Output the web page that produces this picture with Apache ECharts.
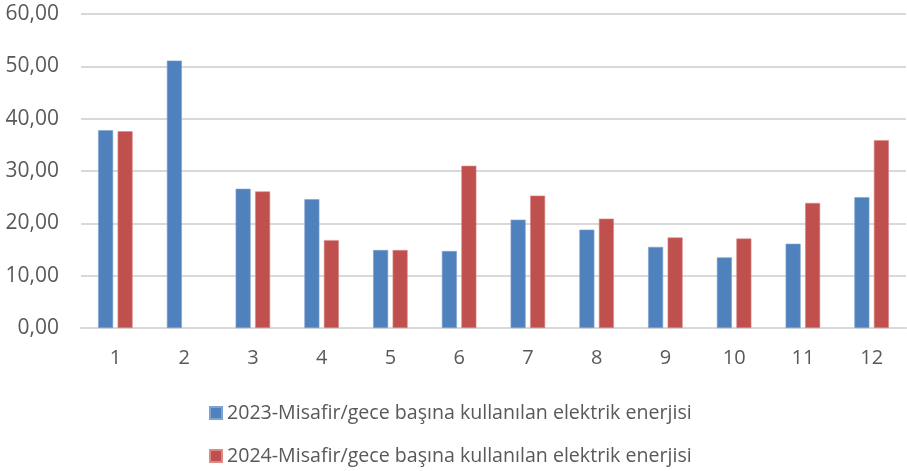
<!DOCTYPE html>
<html>
<head>
<meta charset="utf-8">
<script src="https://cdn.jsdelivr.net/npm/echarts@6/dist/echarts.min.js"></script>
<style>
  html, body { margin: 0; padding: 0; background: #fff; }
  #chart { width: 907px; height: 471px; }
</style>
</head>
<body>
<div id="chart"></div>
<script>
const months = ["1", "2", "3", "4", "5", "6", "7", "8", "9", "10", "11", "12"];
const name2023 = "2023-Misafir/gece başına kullanılan elektrik enerjisi";
const name2024 = "2024-Misafir/gece başına kullanılan elektrik enerjisi";
const values2023 = [37.8, 51.1, 26.6, 24.6, 14.9, 14.7, 20.7, 18.8, 15.5, 13.5, 16.1, 25.0];
const values2024 = [37.6, null, 26.1, 16.8, 14.9, 31.0, 25.3, 20.9, 17.3, 17.1, 23.9, 35.9];

const textColor = "#595959";
const fontFamily = "'Open Sans', 'Noto Sans', sans-serif";

function legendRow(name, centerY) {
  return {
    left: 204,
    top: centerY - 14,
    itemWidth: 12,
    itemHeight: 12,
    itemGap: 6,
    icon: "rect",
    textStyle: { color: textColor, fontSize: 19.6, fontFamily: fontFamily },
    data: [name]
  };
}

const chart = echarts.init(document.getElementById("chart"));
chart.setOption({
  animation: false,
  textStyle: { fontFamily: fontFamily },
  grid: {
    left: 81,
    right: 1,
    top: 14,
    bottom: 143
  },
  legend: [legendRow(name2023, 412), legendRow(name2024, 455)],
  xAxis: {
    type: "category",
    data: months,
    axisTick: { show: false },
    axisLine: { lineStyle: { color: "#D9D9D9", width: 2 } },
    axisLabel: { color: textColor, fontSize: 20, margin: 20 }
  },
  yAxis: {
    type: "value",
    min: 0,
    max: 60,
    interval: 10,
    axisLabel: {
      color: textColor,
      fontSize: 21,
      margin: 22,
      formatter: v => v.toFixed(2).replace(".", ",")
    },
    splitLine: { lineStyle: { color: "#D9D9D9", width: 2 } }
  },
  series: [
    {
      name: name2023,
      type: "bar",
      data: values2023,
      barWidth: 15,
      barGap: "30%",
      itemStyle: { color: "#4F81BD", borderColor: "#7FA3D3", borderWidth: 0.6 }
    },
    {
      name: name2024,
      type: "bar",
      data: values2024,
      barWidth: 15,
      barGap: "30%",
      itemStyle: { color: "#C0504D", borderColor: "#D98A88", borderWidth: 0.6 }
    }
  ]
});
</script>
</body>
</html>
